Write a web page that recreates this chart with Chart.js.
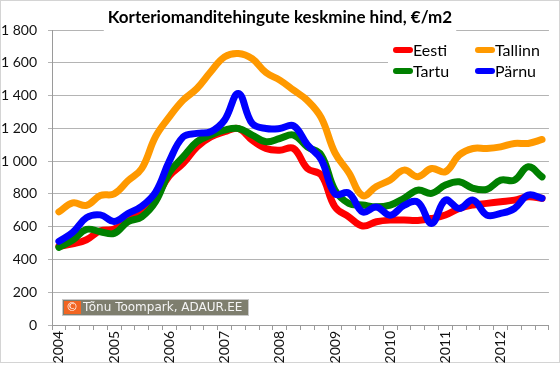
<!DOCTYPE html>
<html>
<head>
<meta charset="utf-8">
<script src="https://cdn.jsdelivr.net/npm/chart.js@4.4.0/dist/chart.umd.min.js"></script>
<style>
  html, body { margin: 0; padding: 0; background: #fff; }
</style>
</head>
<body>
<canvas id="chart" width="560" height="366"></canvas>
<script>
// Average apartment price, quarterly 2004 - 2012 (EUR/m2)
const years = ['2004', '2005', '2006', '2007', '2008', '2009', '2010', '2011', '2012'];
const quarters = years.flatMap(y => ['I', 'II', 'III', 'IV'].map(q => y + ' ' + q));

const eesti   = [480, 495, 520, 575, 585, 635, 690, 775, 910, 986, 1087, 1148, 1179, 1199, 1128, 1077, 1067, 1077, 955, 915, 721, 660, 604, 630, 640, 640, 638, 650, 671, 711, 732, 742, 752, 762, 782, 773];
const tallinn = [690, 745, 730, 790, 800, 880, 955, 1150, 1270, 1372, 1443, 1545, 1636, 1657, 1625, 1540, 1494, 1433, 1370, 1265, 1050, 930, 790, 845, 885, 945, 905, 955, 935, 1037, 1077, 1077, 1087, 1108, 1108, 1132];
const tartu   = [474, 518, 583, 569, 559, 630, 660, 752, 930, 1026, 1118, 1159, 1189, 1199, 1159, 1118, 1138, 1159, 1087, 1037, 823, 742, 732, 721, 732, 773, 823, 803, 854, 874, 834, 828, 884, 884, 965, 904];
const parnu   = [510, 565, 655, 672, 632, 680, 725, 810, 1000, 1148, 1169, 1179, 1250, 1413, 1230, 1199, 1199, 1215, 1100, 1010, 800, 805, 690, 720, 670, 730, 750, 620, 762, 711, 762, 671, 681, 711, 793, 773];

const seriesNames = ['Eesti', 'Tallinn', 'Tartu', 'Pärnu'];
const seriesColors = ['#ff0000', '#ff9900', '#008000', '#0000ff'];
const title = 'Korteriomanditehingute keskmine hind, €/m2';
const credit = 'Tõnu Toompark, ADAUR.EE';

const FONT = 'Lato';

// white frame + thin grey border like the original chart area
const frame = {
    id: 'frame',
    beforeDraw(chart) {
        const ctx = chart.ctx;
        ctx.save();
        ctx.fillStyle = '#fff';
        ctx.fillRect(0, 0, chart.width, chart.height);
        ctx.strokeStyle = '#d4d4d4';
        ctx.lineWidth = 1;
        ctx.strokeRect(0.5, 0.5, 559, 362);
        ctx.restore();
    }
};

// title sits on a white box over the top gridline, legend inside the plot
const overlay = {
    id: 'overlay',
    afterDraw(chart) {
        const ctx = chart.ctx;
        ctx.save();

        // title
        ctx.font = 'bold 17px ' + FONT;
        ctx.textAlign = 'center';
        ctx.textBaseline = 'middle';
        const tw = ctx.measureText(title).width;
        ctx.fillStyle = '#fff';
        ctx.fillRect(280 - tw / 2 - 4, 4, tw + 8, 30);
        ctx.fillStyle = '#000';
        ctx.fillText(title, 280, 18);

        // legend
        ctx.fillStyle = '#fff';
        ctx.fillRect(388, 38, 161, 46);
        const pos = [[393, 50], [475, 50], [393, 71], [475, 71]];
        ctx.font = '16px ' + FONT;
        ctx.textAlign = 'left';
        chart.data.datasets.forEach((ds, i) => {
            const [x, y] = pos[i];
            ctx.strokeStyle = ds.borderColor;
            ctx.lineWidth = 6;
            ctx.lineCap = 'round';
            ctx.beginPath();
            ctx.moveTo(x + 3, y);
            ctx.lineTo(x + 17, y);
            ctx.stroke();
            ctx.fillStyle = '#000';
            ctx.fillText(ds.label, x + 20, y + 1);
        });

        // credit box
        ctx.fillStyle = '#7e7e6e';
        ctx.fillRect(63, 300, 185, 15);
        ctx.strokeStyle = '#c8c8c8';
        ctx.lineWidth = 1;
        ctx.strokeRect(62.5, 299.5, 186, 16);
        ctx.fillStyle = '#f26522';
        ctx.fillRect(64, 301, 17, 13);
        ctx.fillStyle = '#fff';
        ctx.font = '12px DejaVu Sans';
        ctx.textBaseline = 'middle';
        ctx.fillText('©', 66, 308);
        ctx.fillStyle = '#f4f4f4';
        ctx.fillText(credit, 83, 308);

        ctx.restore();
    }
};

const datasets = [eesti, tallinn, tartu, parnu].map((values, i) => ({
    label: seriesNames[i],
    data: values,
    borderColor: seriesColors[i],
    backgroundColor: seriesColors[i],
    borderWidth: 7,
    tension: 0.4,
    pointRadius: 0,
    borderCapStyle: 'round',
    borderJoinStyle: 'round',
    order: 4 - i
}));

new Chart(document.getElementById('chart'), {
    type: 'line',
    data: { labels: quarters, datasets: datasets },
    options: {
        responsive: false,
        animation: false,
        events: [],
        layout: { padding: { left: 0, right: 11, top: 30, bottom: 0 } },
        plugins: {
            legend: { display: false },
            title: { display: false },
            tooltip: { enabled: false }
        },
        scales: {
            x: {
                offset: true,
                grid: {
                    offset: true,
                    drawOnChartArea: false,
                    drawTicks: true,
                    tickLength: 5,
                    color: '#9a9a9a'
                },
                border: { color: '#9a9a9a' },
                ticks: {
                    autoSkip: false,
                    minRotation: 90,
                    maxRotation: 90,
                    padding: 1,
                    color: '#111',
                    font: { family: FONT, size: 14 },
                    callback: (v, i) => (i % 4 === 0 ? years[i / 4] : '')
                },
                afterFit: s => { s.height = 41; }
            },
            y: {
                min: 0,
                max: 1800,
                grid: { color: '#b4b4b4', tickLength: 4 },
                border: { color: '#9a9a9a' },
                ticks: {
                    stepSize: 200,
                    padding: 11,
                    color: '#111',
                    font: { family: FONT, size: 14 },
                    callback: v => String(v).replace(/\B(?=(\d{3})+(?!\d))/g, ' ')
                },
                afterFit: s => { s.width = 52; }
            }
        }
    },
    plugins: [frame, overlay]
});
</script>
</body>
</html>
